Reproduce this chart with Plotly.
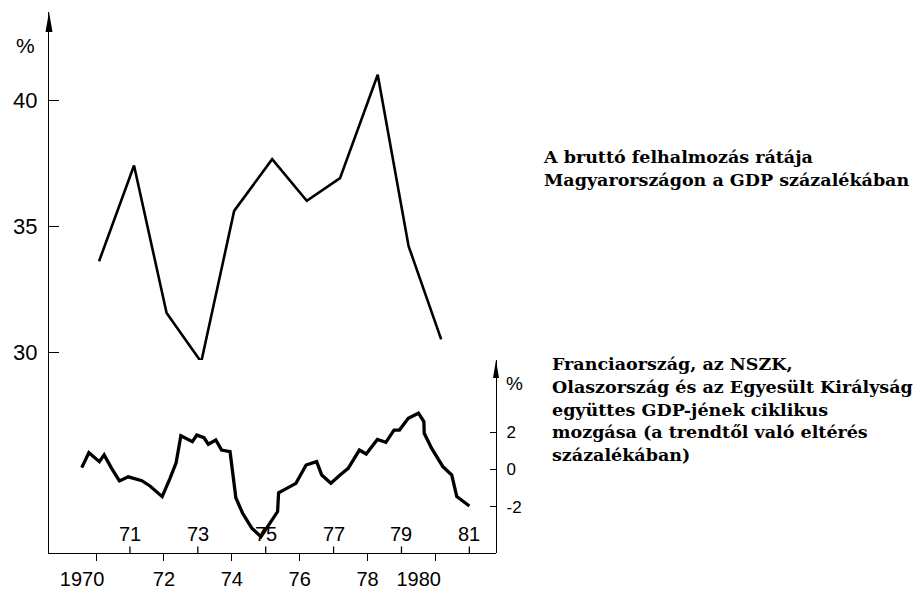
import plotly.graph_objects as go

# ---------------- data ----------------
# Gross accumulation rate in Hungary, % of GDP (annual points)
hu_years = [1970.09, 1971.12, 1972.08, 1973.10, 1974.07, 1975.19,
            1976.21, 1977.19, 1978.30, 1979.21, 1980.17]
hu_rate = [33.6, 37.4, 31.55, 29.6, 35.6, 37.65, 36.0, 36.9, 41.0, 34.2, 30.5]

# Cyclical movement of combined GDP (FR, FRG, IT, UK), % deviation from trend
cyc_years = [1969.58, 1969.79, 1970.10, 1970.24, 1970.46, 1970.69, 1970.95,
             1971.35, 1971.59, 1971.95, 1972.18, 1972.36, 1972.50, 1972.84,
             1972.97, 1973.18, 1973.31, 1973.53, 1973.70, 1973.95, 1974.12,
             1974.32, 1974.59, 1974.86, 1975.35, 1975.38, 1975.62, 1975.89,
             1976.19, 1976.50, 1976.65, 1976.92, 1977.19, 1977.43, 1977.76,
             1977.96, 1978.29, 1978.54, 1978.78, 1978.94, 1979.20, 1979.50,
             1979.66, 1979.67, 1979.89, 1980.22, 1980.48, 1980.63, 1981.00]
cyc_dev = [0.10, 0.90, 0.42, 0.78, 0.06, -0.61, -0.39,
           -0.60, -0.88, -1.45, -0.47, 0.36, 1.81, 1.49,
           1.84, 1.70, 1.35, 1.58, 1.04, 0.95, -1.51,
           -2.34, -3.14, -3.59, -2.25, -1.24, -1.01, -0.74,
           0.24, 0.42, -0.29, -0.74, -0.29, 0.06, 1.04,
           0.83, 1.61, 1.45, 2.11, 2.11, 2.74, 3.01,
           2.56, 1.94, 1.13, 0.15, -0.29, -1.45, -1.95]

even_ticks = [1970, 1972, 1974, 1976, 1978, 1980]
even_labels = ["1970", "72", "74", "76", "78", "1980"]
odd_ticks = [1971, 1973, 1975, 1977, 1979, 1981]
odd_labels = ["71", "73", "75", "77", "79", "81"]
left_ticks = [30, 35, 40]
left_labels = ["30", "35", "40"]
right_ticks = [-2, 0, 2]
right_labels = ["-2", "0", "2"]

top_text = ["A bruttó felhalmozás rátája",
            "Magyarországon a GDP százalékában"]
bottom_text = ["Franciaország, az NSZK,",
               "Olaszország és az Egyesült Királyság",
               "együttes GDP-jének ciklikus",
               "mozgása (a trendtől való eltérés",
               "százalékában)"]

# ---------------- layout geometry ----------------
W, H = 917, 589
ML, MR, MT, MB = 49, 421, 12, 36
PW, PH = W - ML - MR, H - MT - MB


def pxx(px):
    return (px - ML) / PW


def pxy(py):
    return (H - MB - py) / PH


Y2TOP = pxy(360)

NUM = "Liberation Sans"
SERIF = "DejaVu Serif"

fig = go.Figure()
fig.add_trace(go.Scatter(x=hu_years, y=hu_rate, mode="lines",
                         line=dict(color="black", width=2.6),
                         xaxis="x", yaxis="y", hoverinfo="skip"))
fig.add_trace(go.Scatter(x=cyc_years, y=cyc_dev, mode="lines",
                         line=dict(color="black", width=3.3),
                         xaxis="x", yaxis="y2", hoverinfo="skip"))

xr = [1968.615, 1981.785]

annotations = [
    dict(text="%", x=pxx(25), y=pxy(45), xref="paper", yref="paper",
         xanchor="center", yanchor="middle",
         showarrow=False, font=dict(family=NUM, size=21, color="black")),
    dict(text="%", x=pxx(514), y=pxy(383), xref="paper", yref="paper",
         xanchor="center", yanchor="middle",
         showarrow=False, font=dict(family=NUM, size=19, color="black")),
    dict(text="<br>".join(top_text), x=pxx(542), y=pxy(146),
         xref="paper", yref="paper", xanchor="left", yanchor="top",
         align="left", showarrow=False, borderpad=0,
         font=dict(family=SERIF, size=17.5, color="black", weight="bold")),
    dict(text="<br>".join(bottom_text), x=pxx(551), y=pxy(353),
         xref="paper", yref="paper", xanchor="left", yanchor="top",
         align="left", showarrow=False, borderpad=0,
         font=dict(family=SERIF, size=17.5, color="black", weight="bold")),
]
# odd-year labels sit inside the frame; their short connector is the upward tick
for v, t in zip(odd_ticks, odd_labels):
    annotations.append(dict(text=t, x=v, y=0, xref="x", yref="paper",
                            showarrow=True, arrowhead=0, arrowwidth=1.3,
                            arrowcolor="black", ax=0, ay=-19,
                            font=dict(family=NUM, size=20, color="black")))

shapes = [
    dict(type="path", xref="paper", yref="paper", xsizemode="pixel",
         ysizemode="pixel", xanchor=0, yanchor=1,
         path="M0,0 L-3.5,-20 L3.5,-20 Z", fillcolor="black",
         line=dict(width=0)),
    dict(type="path", xref="paper", yref="paper", xsizemode="pixel",
         ysizemode="pixel", xanchor=1, yanchor=Y2TOP,
         path="M0,0 L-3,-18 L3,-18 Z", fillcolor="black",
         line=dict(width=0)),
]

fig.update_layout(
    template="none",
    width=W, height=H,
    margin=dict(l=ML, r=MR, t=MT, b=MB, pad=0, autoexpand=False),
    paper_bgcolor="white", plot_bgcolor="white",
    showlegend=False,
    xaxis=dict(range=xr, domain=[0, 1], anchor="y", showgrid=False,
               automargin=False,
               zeroline=False, showline=True, linecolor="black", linewidth=1.3,
               ticks="outside", ticklen=7, tickwidth=1.3, tickcolor="black",
               tickmode="array", tickvals=even_ticks,
               ticktext=["1970\u00a0\u00a0\u00a0\u00a0\u00a0", "72", "74", "76", "78",
                         "1980\u00a0\u00a0\u00a0\u00a0\u00a0\u00a0"],
               ticklabelstandoff=1,
               tickfont=dict(family=NUM, size=20, color="black")),
    yaxis=dict(range=[22.024, 43.492], domain=[0, 1], anchor="x",
               automargin=False,
               showgrid=False, zeroline=False, showline=True,
               linecolor="black", linewidth=1.3,
               ticks="inside", ticklen=10, tickwidth=1.3, tickcolor="black",
               tickvals=left_ticks, ticktext=left_labels,
               ticklabelstandoff=6,
               tickfont=dict(family=NUM, size=22, color="black")),
    yaxis2=dict(range=[-4.465, 5.856], domain=[0, Y2TOP], anchor="x",
                automargin=False,
                side="right", showgrid=False, zeroline=False, showline=True,
                linecolor="black", linewidth=1.3,
                ticks="inside", ticklen=6, tickwidth=1.3, tickcolor="black",
                tickvals=right_ticks, ticktext=right_labels,
                ticklabelstandoff=6,
                tickfont=dict(family=NUM, size=17, color="black")),
    annotations=annotations,
    shapes=shapes,
)

fig.write_html("out.html", config={"displayModeBar": False},
               post_script="document.body.style.margin='0';"
                           "document.body.style.overflow='hidden';")
